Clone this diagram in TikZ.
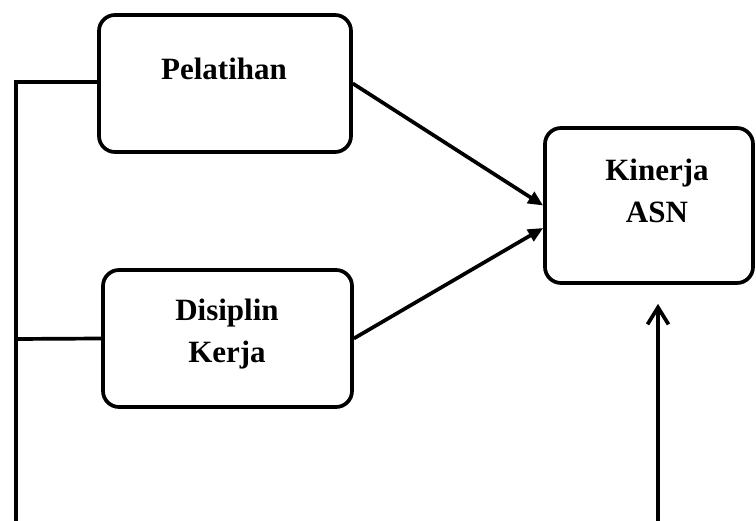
\documentclass[tikz,border=0pt]{standalone}
\usepackage{fontspec}
\setmainfont{Liberation Serif}
\usetikzlibrary{arrows.meta,positioning,calc}
\definecolor{ink}{HTML}{000000}
\tikzset{
  varbox/.style={draw=ink,line width=3.7pt,rounded corners=16pt,inner sep=0pt},
  varlbl/.style={ink,align=center,inner sep=0pt,font=\fontsize{31}{42}\selectfont\bfseries},
  link/.style={ink,line width=3.7pt},
  fwd/.style={link,-{Triangle[length=15pt,width=13pt]}},
  up/.style={link,-{Straight Barb[length=17pt,width=21pt]}}
}
\begin{document}
\begin{tikzpicture}[x=1pt,y=-1pt]
\useasboundingbox (0,0) rectangle (756,521);
% variable boxes
\node[varbox,minimum width=252pt,minimum height=137pt] (pel) at (225,83.5) {};
\node[varbox,minimum width=249pt,minimum height=137pt] (dis) at (227.5,338.5) {};
\node[varbox,minimum width=208pt,minimum height=155pt] (kin) at (649,205.5) {};
\node[varlbl] (pelT) at (224,69) {Pelatihan};
\node[varlbl] (disT) at (227,334) {Disiplin\\Kerja};
\node[varlbl] (kinT) at (657,191) {Kinerja\\ASN};
% left bracket
\coordinate (topL) at (16,82);
\coordinate (midL) at (16,339);
\coordinate (botL) at (16,521);
\draw[link] (pel.west |- topL) -- (topL) -- (botL);
\draw[link] (dis.west) -- (midL);
% arrows into Kinerja ASN
\draw[fwd] (pel.east) -- (kin.west);
\draw[fwd] (dis.east) -- ($(kin.west)+(0,22.5)$);
\coordinate (botR) at (658,521);
\draw[up,shorten >=19pt] (botR) -- (botR |- kin.south);
\end{tikzpicture}
\end{document}
